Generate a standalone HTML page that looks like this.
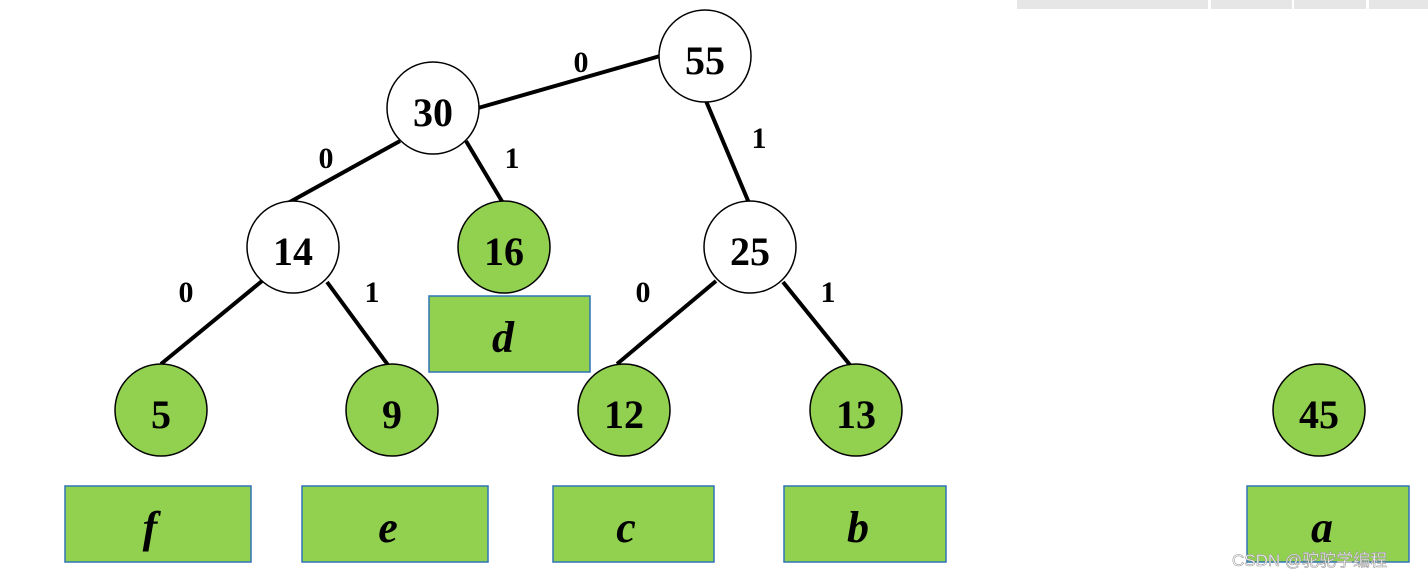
<!DOCTYPE html>
<html><head><meta charset="utf-8"><style>
html,body{margin:0;padding:0;background:#fff;width:1428px;height:579px;overflow:hidden}
svg{display:block}
.n{font-family:"Liberation Serif",serif;font-weight:bold;font-size:40px;text-anchor:middle}
.l{font-family:"Liberation Serif",serif;font-weight:bold;font-size:30px;text-anchor:middle}
.t{font-family:"Liberation Serif",serif;font-weight:bold;font-style:italic;font-size:44px;text-anchor:middle}
</style></head><body>
<svg width="1428" height="579" viewBox="0 0 1428 579" xmlns="http://www.w3.org/2000/svg">
<g fill="#e6e6e6">
<rect x="1017" y="0" width="191" height="9"/><rect x="1211" y="0" width="81" height="9"/>
<rect x="1294" y="0" width="72" height="9"/><rect x="1369" y="0" width="59" height="9"/>
</g>
<g stroke="#000" stroke-width="4" fill="none">
<line x1="660" y1="56" x2="478" y2="108"/>
<line x1="706" y1="101" x2="749" y2="203"/>
<line x1="400" y1="141" x2="288" y2="203"/>
<line x1="466" y1="141" x2="503" y2="203"/>
<line x1="262" y1="281" x2="161" y2="364"/>
<line x1="327" y1="282" x2="388" y2="365"/>
<line x1="716" y1="281" x2="617" y2="364"/>
<line x1="783" y1="282" x2="850" y2="365"/>
</g>
<g fill="#92d050" stroke="#2e75b6" stroke-width="1.5">
<rect x="429" y="296" width="161" height="76"/>
<rect x="65" y="486" width="186" height="76"/>
<rect x="302" y="486" width="186" height="76"/>
<rect x="553" y="486" width="161" height="76"/>
<rect x="784" y="486" width="162" height="76"/>
<rect x="1247" y="486" width="162" height="76"/>
</g>
<g stroke="#000" stroke-width="1.5">
<circle cx="705" cy="56" r="46" fill="#fff"/>
<circle cx="433" cy="108" r="46" fill="#fff"/>
<circle cx="293" cy="247" r="46" fill="#fff"/>
<circle cx="750" cy="247" r="46" fill="#fff"/>
<circle cx="504" cy="247" r="46" fill="#92d050"/>
<circle cx="161" cy="410" r="46" fill="#92d050"/>
<circle cx="392" cy="410" r="46" fill="#92d050"/>
<circle cx="624" cy="410" r="46" fill="#92d050"/>
<circle cx="856" cy="410" r="46" fill="#92d050"/>
<circle cx="1319" cy="410" r="46" fill="#92d050"/>
</g>
<g class="n">
<text x="705" y="74">55</text><text x="433" y="126">30</text>
<text x="293" y="265">14</text><text x="750" y="265">25</text>
<text x="504" y="265">16</text><text x="161" y="428">5</text>
<text x="392" y="428">9</text><text x="624" y="428">12</text>
<text x="856" y="428">13</text><text x="1319" y="428">45</text>
</g>
<g class="l">
<text x="581" y="72">0</text><text x="759" y="148">1</text>
<text x="326" y="168">0</text><text x="512" y="168">1</text>
<text x="186" y="302">0</text><text x="372" y="302">1</text>
<text x="643" y="302">0</text><text x="828" y="302">1</text>
</g>
<g class="t">
<text x="503" y="352">d</text><text x="150" y="542">f</text>
<text x="388" y="542">e</text><text x="626" y="542">c</text>
<text x="858" y="542">b</text><text x="1322" y="542">a</text>
</g>
<text x="1232" y="566" font-family="Liberation Sans,'Noto Sans CJK SC',sans-serif" font-size="17" fill="#fff" stroke="#999" stroke-width="0.6">CSDN @驼驼学编程</text>
</svg>
</body></html>
